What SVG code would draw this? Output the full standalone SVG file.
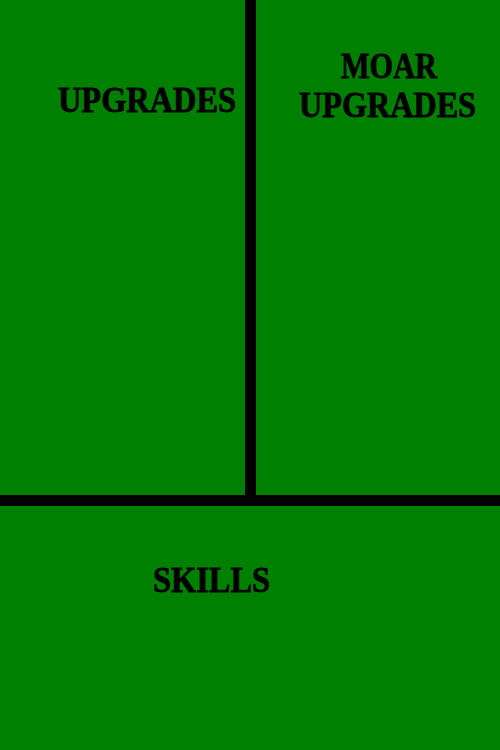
<svg xmlns="http://www.w3.org/2000/svg" width="500" height="750" viewBox="0 0 500 750">
<style>
.lbl{font-family:"Liberation Serif","DejaVu Serif",serif;font-weight:bold;font-size:36px;fill:#000;stroke:#000;stroke-width:0.8}
</style>
<rect x="0" y="0" width="500" height="750" fill="#008000"/>
<g id="dividers">
<rect x="245" y="0" width="11" height="506" fill="#000"/>
<rect x="0" y="495" width="500" height="11" fill="#000"/>
</g>
<g id="upgrades"><text class="lbl" x="58" y="112" textLength="178" lengthAdjust="spacingAndGlyphs">UPGRADES</text></g>
<g id="moar-upgrades">
<text class="lbl" x="341" y="78" textLength="96" lengthAdjust="spacingAndGlyphs">MOAR</text>
<text class="lbl" x="299" y="117" textLength="177" lengthAdjust="spacingAndGlyphs">UPGRADES</text>
</g>
<g id="skills"><text class="lbl" x="153" y="592" textLength="117" lengthAdjust="spacingAndGlyphs">SKILLS</text></g>
</svg>
